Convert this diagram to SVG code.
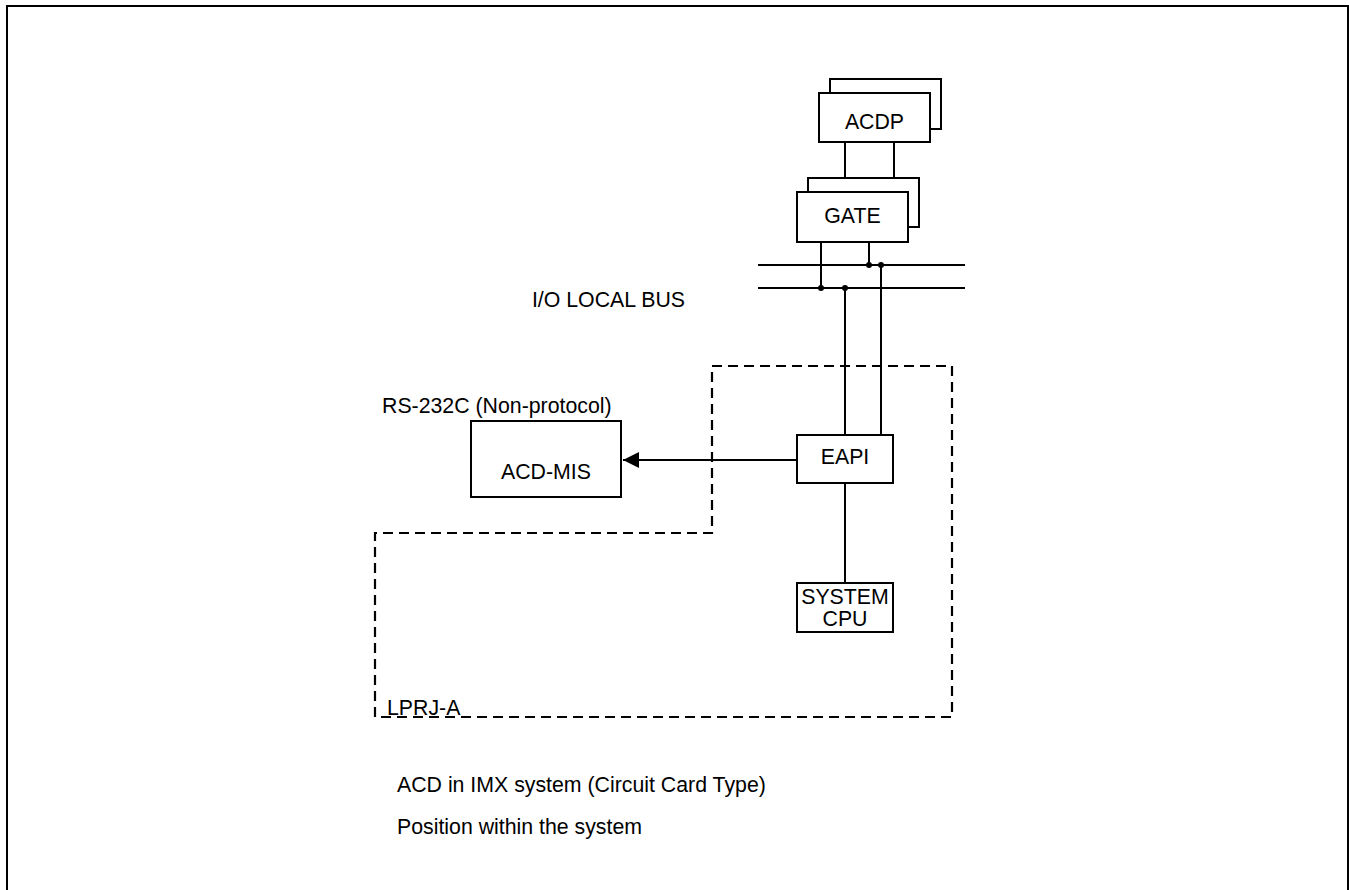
<svg xmlns="http://www.w3.org/2000/svg" width="1349" height="890" viewBox="0 0 1349 890">
<style>
.box{fill:#fff;stroke:#000;stroke-width:2}
.ln{stroke:#000;stroke-width:2;fill:none}
.dash{stroke:#000;stroke-width:2.2;fill:none;stroke-dasharray:10 6}
text{font-family:"Liberation Sans",Arial,sans-serif;font-size:21.3px;fill:#000}
.c{text-anchor:middle}
</style>
<defs>
<marker id="arr" markerWidth="16" markerHeight="16" refX="16" refY="8" orient="auto" markerUnits="userSpaceOnUse">
<path d="M0,0 L16,8 L0,16 Z" fill="#000"/>
</marker>
</defs>
<rect x="7" y="6" width="1341" height="900" fill="none" stroke="#000" stroke-width="2"/>
<g id="lprj-a">
<path class="dash" d="M712,366 H952 V717 H375 V533 H712 Z"/>
<text x="387" y="715">LPRJ-A</text>
</g>
<g id="connectors">
<line class="ln" x1="845" y1="142" x2="845" y2="192"/>
<line class="ln" x1="894" y1="142" x2="894" y2="178"/>
<line class="ln" x1="758" y1="265" x2="965" y2="265"/>
<line class="ln" x1="758" y1="288" x2="965" y2="288"/>
<line class="ln" x1="821" y1="242" x2="821" y2="288"/>
<line class="ln" x1="869" y1="242" x2="869" y2="265"/>
<line class="ln" x1="845" y1="288" x2="845" y2="435"/>
<line class="ln" x1="881" y1="265" x2="881" y2="435"/>
<line class="ln" x1="845" y1="483" x2="845" y2="583"/>
<line class="ln" x1="797" y1="460" x2="623" y2="460" marker-end="url(#arr)"/>
<circle cx="869" cy="265" r="3"/>
<circle cx="881" cy="265" r="3"/>
<circle cx="821" cy="288" r="3"/>
<circle cx="845" cy="288" r="3"/>
</g>
<g id="acdp">
<rect class="box" x="830" y="79" width="111" height="50"/>
<rect class="box" x="819" y="93" width="111" height="49"/>
<text class="c" x="874.5" y="129">ACDP</text>
</g>
<g id="gate">
<rect class="box" x="808" y="178" width="111" height="49"/>
<rect class="box" x="797" y="192" width="111" height="50"/>
<text class="c" x="852.5" y="223">GATE</text>
</g>
<g id="bus-label">
<text x="685" y="307" text-anchor="end">I/O LOCAL BUS</text>
</g>
<g id="eapi">
<rect class="box" x="797" y="435" width="96" height="48"/>
<text class="c" x="845" y="464">EAPI</text>
</g>
<g id="system-cpu">
<rect class="box" x="797" y="583" width="96" height="49"/>
<text class="c" x="845" y="604">SYSTEM</text>
<text class="c" x="845" y="626">CPU</text>
</g>
<g id="acd-mis">
<rect class="box" x="471" y="421" width="150" height="76"/>
<text class="c" x="546" y="479">ACD-MIS</text>
<text x="382" y="413">RS-232C (Non-protocol)</text>
</g>
<g id="captions">
<text x="397" y="792">ACD in IMX system (Circuit Card Type)</text>
<text x="397" y="834">Position within the system</text>
</g>
</svg>
